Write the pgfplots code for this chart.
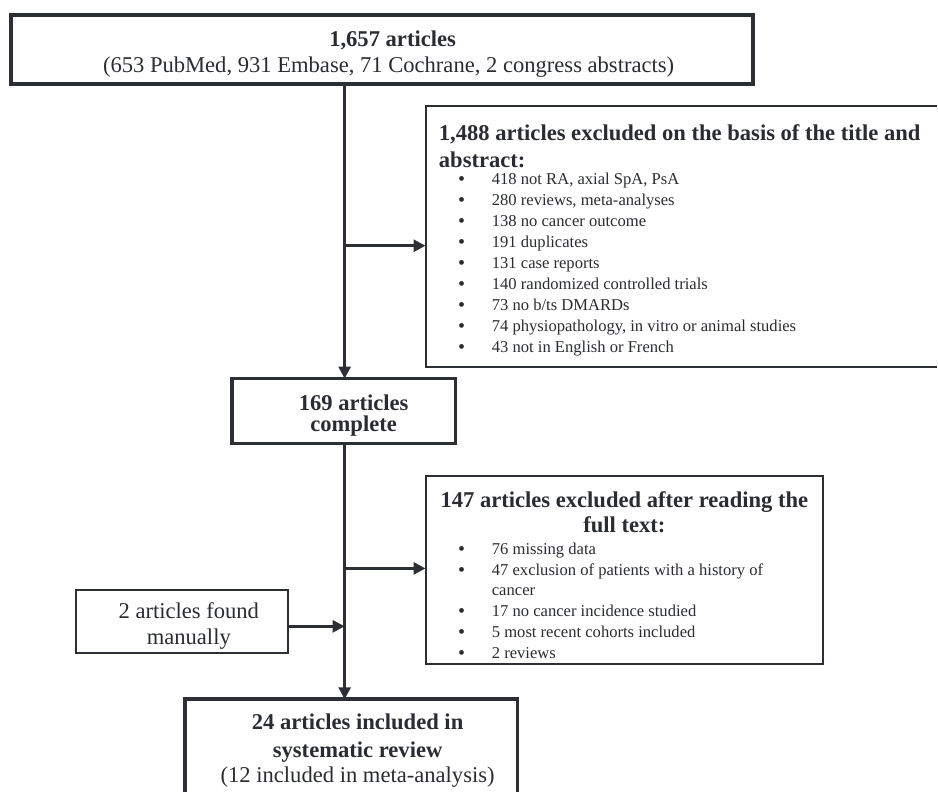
\documentclass[border=0pt]{standalone}
\usepackage{fontspec}
\setmainfont{Liberation Serif}
\usepackage{pgfplots}
\pgfplotsset{compat=1.18}
\usetikzlibrary{arrows.meta}
\definecolor{ln}{HTML}{2D2F36}
\definecolor{tx}{HTML}{2A2C33}
\newcommand{\bigf}{\fontsize{11.3}{13}\selectfont}
\newcommand{\smlf}{\fontsize{8.3}{10}\selectfont}
\tikzset{bul/.style={tx, anchor=mid, inner sep=0pt, yshift=-0.5pt, font=\fontsize{10}{10}\selectfont},
  itm/.style={tx, anchor=mid west, inner sep=0pt, font=\smlf},
  arr/.style={ln, line width=1.4pt, -{Triangle[length=6pt,width=6pt]}}}
\begin{document}
\begin{tikzpicture}
\begin{axis}[width=469pt, height=396pt, scale only axis,
  xmin=0, xmax=938, ymin=0, ymax=792, y dir=reverse,
  axis lines=none, clip=false]
\addplot[draw=none] coordinates {(0,0) (938,792)};
% boxes
\draw[ln, line width=1.9pt] (axis cs:11,15) rectangle (axis cs:754,84);
\draw[ln, line width=1pt] (axis cs:938,106) -- (axis cs:426,106) -- (axis cs:426,367) -- (axis cs:938,367);
\draw[ln, line width=1.9pt] (axis cs:232,379) rectangle (axis cs:456,444);
\draw[ln, line width=1pt] (axis cs:426,477) rectangle (axis cs:824,665);
\draw[ln, line width=1pt] (axis cs:76,591) rectangle (axis cs:288,654);
\draw[ln, line width=1.9pt] (axis cs:185,793) -- (axis cs:185,700) -- (axis cs:518,700) -- (axis cs:518,793);
% arrows
\draw[arr] (axis cs:345,84) -- (axis cs:345,379);
\draw[arr] (axis cs:345,246) -- (axis cs:426,246);
\draw[arr] (axis cs:345,444) -- (axis cs:345,700);
\draw[arr] (axis cs:345,569) -- (axis cs:426,569);
\draw[arr] (axis cs:288,627) -- (axis cs:345,627);
% top box text
\node[tx, anchor=mid, font=\bigf\bfseries] at (axis cs:393,42) {1,657 articles};
\node[tx, anchor=mid, font=\bigf] at (axis cs:389,68) {(653 PubMed, 931 Embase, 71 Cochrane, 2 congress abstracts)};
% box 1
\node[tx, anchor=mid west, inner sep=0pt, font=\bigf\bfseries] at (axis cs:439,136) {1,488 articles excluded on the basis of the title and};
\node[tx, anchor=mid west, inner sep=0pt, font=\bigf\bfseries] at (axis cs:439,163) {abstract:};
\node[bul] at (axis cs:462,180) {\textbullet}; \node[itm] at (axis cs:492,180) {418 not RA, axial SpA, PsA};
\node[bul] at (axis cs:462,201) {\textbullet}; \node[itm] at (axis cs:492,201) {280 reviews, meta-analyses};
\node[bul] at (axis cs:462,222) {\textbullet}; \node[itm] at (axis cs:492,222) {138 no cancer outcome};
\node[bul] at (axis cs:462,243) {\textbullet}; \node[itm] at (axis cs:492,243) {191 duplicates};
\node[bul] at (axis cs:462,264) {\textbullet}; \node[itm] at (axis cs:492,264) {131 case reports};
\node[bul] at (axis cs:462,285) {\textbullet}; \node[itm] at (axis cs:492,285) {140 randomized controlled trials};
\node[bul] at (axis cs:462,306) {\textbullet}; \node[itm] at (axis cs:492,306) {73 no b/ts DMARDs};
\node[bul] at (axis cs:462,327) {\textbullet}; \node[itm] at (axis cs:492,327) {74 physiopathology, in vitro or animal studies};
\node[bul] at (axis cs:462,348) {\textbullet}; \node[itm] at (axis cs:492,348) {43 not in English or French};
% 169 box
\node[tx, anchor=mid, font=\bigf\bfseries] at (axis cs:354,406) {169 articles};
\node[tx, anchor=mid, font=\bigf\bfseries] at (axis cs:354,427) {complete};
% box 2
\node[tx, anchor=mid, font=\bigf\bfseries] at (axis cs:625,503) {147 articles excluded after reading the};
\node[tx, anchor=mid, font=\bigf\bfseries] at (axis cs:625,528) {full text:};
\node[bul] at (axis cs:462,551) {\textbullet}; \node[itm] at (axis cs:492,551) {76 missing data};
\node[bul] at (axis cs:462,572) {\textbullet}; \node[itm] at (axis cs:492,572) {47 exclusion of patients with a history of};
\node[itm] at (axis cs:492,592) {cancer};
\node[bul] at (axis cs:462,613) {\textbullet}; \node[itm] at (axis cs:492,613) {17 no cancer incidence studied};
\node[bul] at (axis cs:462,634) {\textbullet}; \node[itm] at (axis cs:492,634) {5 most recent cohorts included};
\node[bul] at (axis cs:462,655) {\textbullet}; \node[itm] at (axis cs:492,655) {2 reviews};
% left box
\node[tx, anchor=mid, font=\bigf] at (axis cs:189,615) {2 articles found};
\node[tx, anchor=mid, font=\bigf] at (axis cs:189,641) {manually};
% bottom box
\node[tx, anchor=mid, font=\bigf\bfseries] at (axis cs:358,726) {24 articles included in};
\node[tx, anchor=mid, font=\bigf\bfseries] at (axis cs:358,754) {systematic review};
\node[tx, anchor=mid, font=\bigf] at (axis cs:358,779) {(12 included in meta-analysis)};
\end{axis}
\end{tikzpicture}
\end{document}
